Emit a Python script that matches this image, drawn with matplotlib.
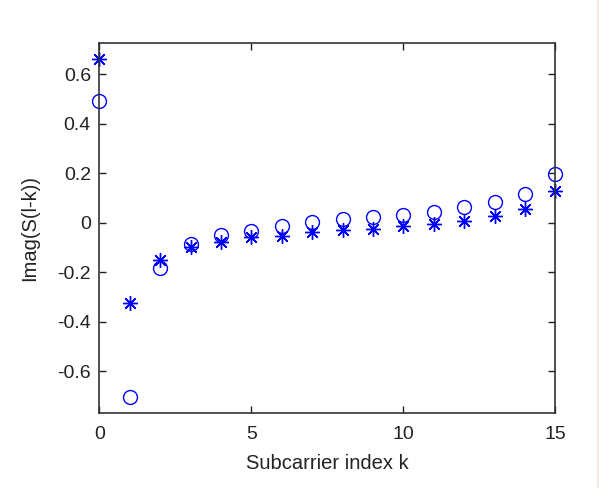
import matplotlib
matplotlib.use("Agg")
import matplotlib.pyplot as plt
from matplotlib.patches import Rectangle

# subcarrier index
k = list(range(16))

# Imag(S(l-k)), circle series
imag_circle = [0.493, -0.703, -0.184, -0.087, -0.050, -0.032, -0.013, 0.003,
               0.014, 0.024, 0.032, 0.043, 0.062, 0.084, 0.116, 0.196]

# Imag(S(l-k)), star series
imag_star = [0.661, -0.326, -0.151, -0.097, -0.077, -0.059, -0.052, -0.038,
             -0.031, -0.027, -0.013, -0.007, 0.008, 0.026, 0.054, 0.129]

x_ticks = [0, 5, 10, 15]
y_ticks = [-0.6, -0.4, -0.2, 0, 0.2, 0.4, 0.6]
y_tick_labels = ["-0.6", "-0.4", "-0.2", "0", "0.2", "0.4", "0.6"]

plt.rcParams["font.family"] = ["Liberation Sans", "DejaVu Sans"]

fig = plt.figure(figsize=(5.99, 4.88), dpi=100)
fig.patch.set_facecolor("white")
# page background strip at the right edge
fig.patches.append(Rectangle((597 / 599, 0), 2 / 599, 1, transform=fig.transFigure,
                             facecolor="#f8ece2", edgecolor="none", zorder=-1))

ax = fig.add_axes([0.1658, 0.1531, 0.7613, 0.7582])
ax.plot(k, imag_circle, linestyle="none", marker="o", markersize=10,
        markerfacecolor="none", markeredgecolor="#0000ff", markeredgewidth=1.0,
        clip_on=False)
ax.plot(k, imag_star, linestyle="none", marker=(8, 2, 0), markersize=10.5,
        markeredgecolor="#0000ff", markeredgewidth=1.0, clip_on=False)

ax.set_xlim(0, 15)
ax.set_ylim(-0.77, 0.725)
ax.set_xticks(x_ticks)
ax.set_yticks(y_ticks)
ax.set_yticklabels(y_tick_labels)

ax.tick_params(direction="in", length=5, width=1, top=True, right=True,
               labelsize=14, colors="#222222", pad=6)
ax.tick_params(axis="x", pad=9)
for s in ax.spines.values():
    s.set_color("#333333")
    s.set_linewidth(1.2)

ax.set_xlabel("Subcarrier index k", fontsize=14.5, color="#222222", labelpad=8)
ax.set_ylabel("Imag(S(l-k))", fontsize=14.5, color="#222222", labelpad=13)

fig.savefig("out.png", dpi=100, facecolor=fig.get_facecolor())
